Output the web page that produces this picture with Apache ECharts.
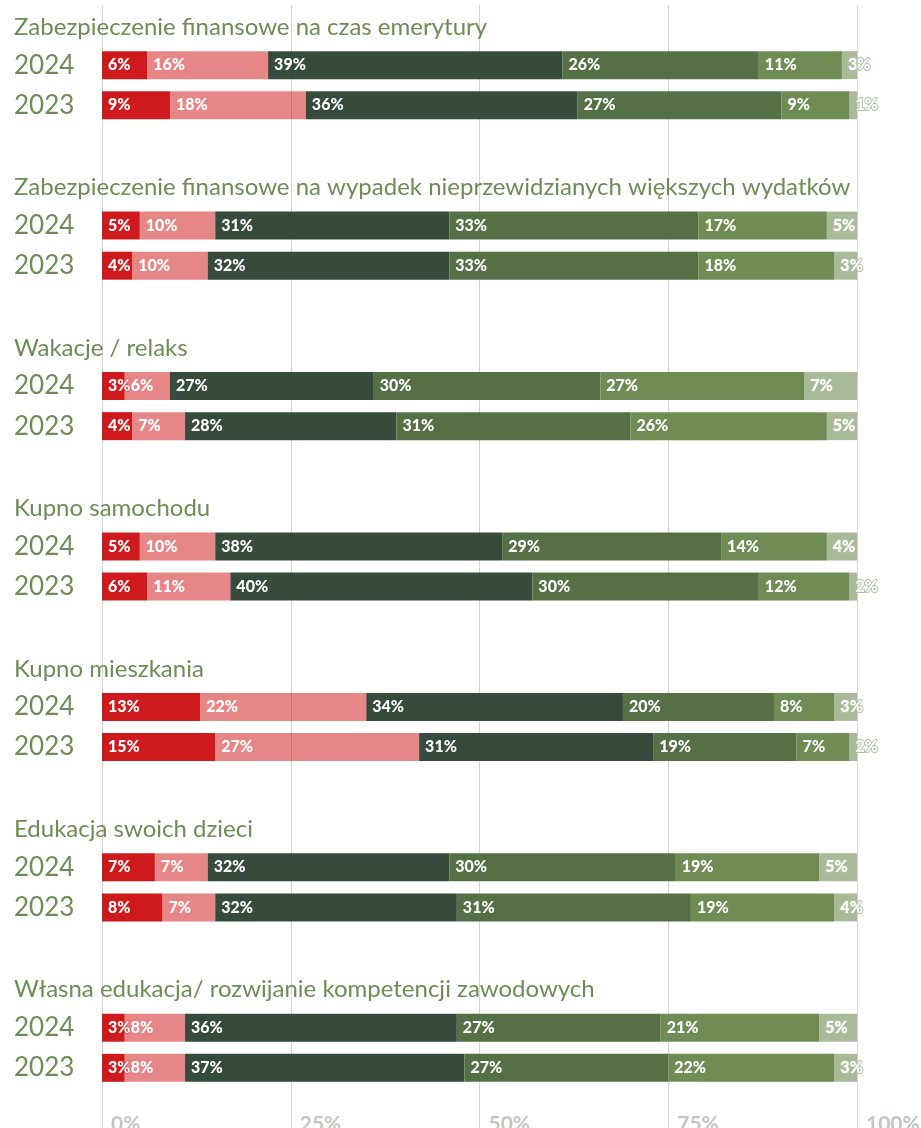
<!DOCTYPE html>
<html>
<head>
<meta charset="utf-8">
<script src="https://cdn.jsdelivr.net/npm/echarts@6/dist/echarts.min.js"></script>
<style>
  html, body { margin: 0; padding: 0; background: #ffffff; }
  #chart { width: 921px; height: 1128px; }
</style>
</head>
<body>
<div id="chart"></div>
<script>
// Group headings (top to bottom)
const groupTitles = [
  'Zabezpieczenie finansowe na czas emerytury',
  'Zabezpieczenie finansowe na wypadek nieprzewidzianych większych wydatków',
  'Wakacje / relaks',
  'Kupno samochodu',
  'Kupno mieszkania',
  'Edukacja swoich dzieci',
  'Własna edukacja/ rozwijanie kompetencji zawodowych'
];
const years = ['2024', '2023'];

// Shares (%) per answer level, one value per group, for each year
const level1_2024 = [6, 5, 3, 5, 13, 7, 3];
const level1_2023 = [9, 4, 4, 6, 15, 8, 3];
const level2_2024 = [16, 10, 6, 10, 22, 7, 8];
const level2_2023 = [18, 10, 7, 11, 27, 7, 8];
const level3_2024 = [39, 31, 27, 38, 34, 32, 36];
const level3_2023 = [36, 32, 28, 40, 31, 32, 37];
const level4_2024 = [26, 33, 30, 29, 20, 30, 27];
const level4_2023 = [27, 33, 31, 30, 19, 31, 27];
const level5_2024 = [11, 17, 27, 14, 8, 19, 21];
const level5_2023 = [9, 18, 26, 12, 7, 19, 22];
const level6_2024 = [3, 5, 7, 4, 3, 5, 5];
const level6_2023 = [1, 3, 5, 2, 2, 4, 3];

const xTicks = [0, 25, 50, 75, 100];

// Level fills; the lighter red and lighter green are translucent tints
const levelColors = [
  '#cf1a1d',
  'rgba(207,26,29,0.53)',
  '#374b3d',
  '#557044',
  '#6f8c55',
  'rgba(111,140,85,0.6)'
];
const labelBorder = ['#cf1a1d', '#e48a8a', '#374b3d', '#557044', '#6f8c55', '#b3c2a6'];
const labelBorderWidth = [1, 1, 1, 1, 1, 2];
const levels = [
  [level1_2024, level1_2023],
  [level2_2024, level2_2023],
  [level3_2024, level3_2023],
  [level4_2024, level4_2023],
  [level5_2024, level5_2023],
  [level6_2024, level6_2023]
];

// Category rows: heading, 2024, 2023, spacer for each group
const rowKeys = [];
const rowText = {};
groupTitles.forEach((t, g) => {
  rowKeys.push('t' + g); rowText['t' + g] = { kind: 'title', text: t };
  years.forEach(y => { rowKeys.push(y + '_' + g); rowText[y + '_' + g] = { kind: 'year', text: y }; });
  if (g < groupTitles.length - 1) { rowKeys.push('s' + g); rowText['s' + g] = { kind: 'blank', text: '' }; }
});
rowKeys.push('end'); rowText['end'] = { kind: 'blank', text: '' };

function seriesData(pair) {
  const out = [];
  groupTitles.forEach((t, g) => {
    out.push('-');
    out.push(pair[0][g]);
    out.push(pair[1][g]);
    out.push('-');
  });
  return out;
}

const FONT = 'Lato';

const series = levels.map((pair, i) => ({
  type: 'bar',
  stack: 'total',
  barWidth: 28,
  data: seriesData(pair),
  itemStyle: { color: levelColors[i] },
  label: {
    show: true,
    position: 'insideLeft',
    distance: 6,
    formatter: p => p.value + '%',
    color: '#ffffff',
    fontFamily: FONT,
    fontWeight: 900,
    fontSize: 16,
    textBorderColor: labelBorder[i],
    textBorderWidth: labelBorderWidth[i]
  },
  labelLayout: { hideOverlap: false },
  emphasis: { disabled: true }
}));

const chart = echarts.init(document.getElementById('chart'), null, { renderer: 'canvas' });
chart.setOption({
  animation: false,
  backgroundColor: '#ffffff',
  grid: { left: 102, right: 64, top: 5, bottom: 0, containLabel: false, outerBoundsMode: 'none' },
  xAxis: {
    type: 'value',
    min: 0,
    max: 100,
    interval: 25,
    axisLine: { show: false },
    axisTick: { show: false },
    splitLine: { show: true, lineStyle: { color: '#d6d2cf', width: 1 } },
    axisLabel: {
      inside: true,
      margin: -7,
      align: 'left',
      padding: [0, 0, 0, 9],
      color: '#c9c3bf',
      fontFamily: FONT,
      fontWeight: 'bold',
      fontSize: 21,
      customValues: xTicks,
      formatter: v => v + '%'
    }
  },
  yAxis: {
    type: 'category',
    inverse: true,
    data: rowKeys,
    axisLine: { show: false },
    axisTick: { show: false },
    splitLine: { show: false },
    axisLabel: {
      interval: 0,
      align: 'left',
      margin: 88,
      formatter: k => {
        const r = rowText[k];
        if (r.kind === 'title') return '{t|' + r.text + '}';
        if (r.kind === 'year') return '{y|' + r.text + '}';
        return '';
      },
      rich: {
        t: { fontFamily: FONT, fontSize: 24, color: '#6e8c55', padding: [4, 0, 0, 0] },
        y: { fontFamily: FONT, fontSize: 26, color: '#6e8c55' }
      }
    }
  },
  series: series
});
</script>
</body>
</html>
